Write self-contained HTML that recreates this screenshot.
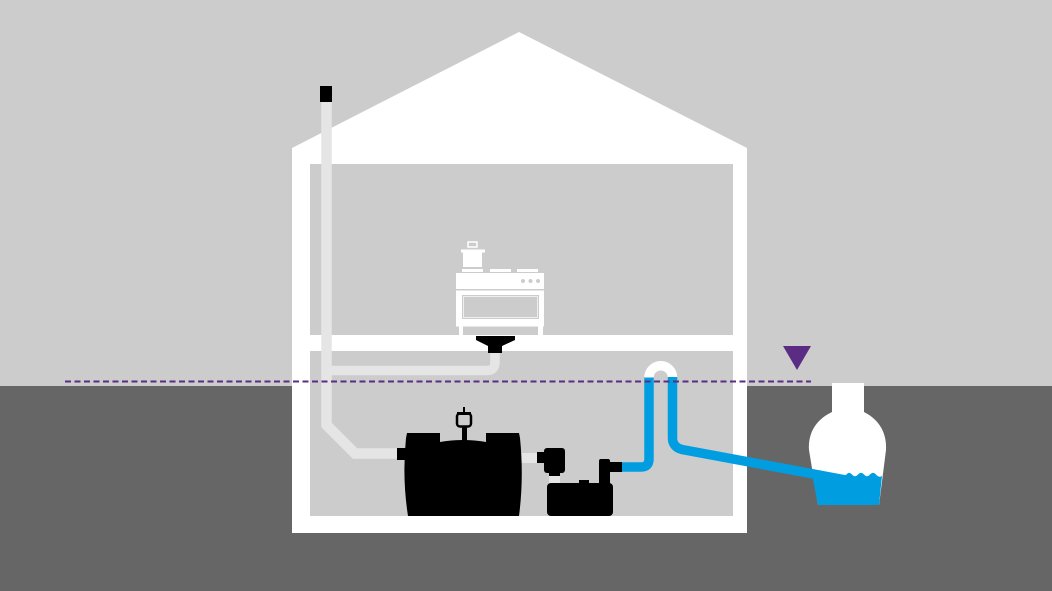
<!DOCTYPE html>
<html>
<head>
<meta charset="utf-8">
<style>
  html, body { margin: 0; padding: 0; background: #cccccc; }
  svg { display: block; }
</style>
</head>
<body>
<svg width="1052" height="591" viewBox="0 0 1052 591" xmlns="http://www.w3.org/2000/svg">
  <!-- sky -->
  <rect x="0" y="0" width="1052" height="591" fill="#cccccc"/>
  <!-- ground -->
  <rect x="0" y="386" width="1052" height="205" fill="#666666"/>

  <!-- house -->
  <polygon points="292,148 519,32 747,148 747,533 292,533" fill="#ffffff"/>
  <rect x="310" y="164" width="423" height="171" fill="#cccccc"/>
  <rect x="310" y="351" width="423" height="165" fill="#cccccc"/>

  <!-- stove -->
  <g fill="#ffffff">
    <!-- pot handle -->
    <rect x="468" y="242" width="9" height="5" fill="none" stroke="#ffffff" stroke-width="1.5"/>
    <!-- pot lid -->
    <rect x="461" y="249.5" width="24" height="3" />
    <!-- pot body -->
    <rect x="463" y="252" width="19" height="15" />
    <!-- burners -->
    <rect x="462" y="269" width="21" height="3" />
    <rect x="490" y="269" width="21" height="3" />
    <rect x="517" y="269" width="21" height="3" />
    <!-- top -->
    <rect x="456" y="273" width="88" height="16" />
    <!-- oven -->
    <rect x="456" y="290.5" width="88" height="36" />
    <!-- legs -->
    <rect x="459" y="326" width="4" height="10" />
    <rect x="538" y="326" width="5" height="10" />
  </g>
  <circle cx="523" cy="281" r="2" fill="#cccccc"/>
  <circle cx="530.5" cy="281" r="2" fill="#cccccc"/>
  <circle cx="538" cy="281" r="2" fill="#cccccc"/>
  <rect x="462" y="295" width="77" height="24" fill="#cccccc"/>
  <rect x="463.5" y="296.5" width="74" height="21" fill="none" stroke="#eeeeee" stroke-width="1"/>

  <!-- vent / drain pipes (light gray) -->
  <polyline points="326.5,101 326.5,425 355,453.5 400,453.5" fill="none" stroke="#e5e5e5" stroke-width="10.5" stroke-linejoin="miter"/>
  <path d="M495 350 V362 Q495 370.5 487 370.5 H330" fill="none" stroke="#e5e5e5" stroke-width="9.5"/>
  <rect x="520" y="453" width="18" height="10" fill="#e5e5e5"/>
  <rect x="549" y="475" width="11" height="9" fill="#e5e5e5"/>

  <!-- vent cap -->
  <rect x="320" y="86" width="12" height="16" fill="#000000"/>

  <!-- floor drain -->
  <polygon points="476,336 515,336 515,340 502,346 502,353 488,353 488,346 476,340" fill="#000000"/>

  <!-- grease separator tank -->
  <path d="M407 433 L440 433 L440 442 Q463 438 486 442 L486 433 L519 433 L520 438 Q524 478 519 516 L408 516 Q402 478 406 438 Z" fill="#000000"/>
  <rect x="397" y="448" width="11" height="12" fill="#000000"/>
  <rect x="462" y="426" width="5" height="16" fill="#000000"/>
  <rect x="457" y="413.5" width="14" height="13" rx="3" fill="#cccccc" stroke="#000000" stroke-width="2.5"/>
  <rect x="457" y="412" width="14" height="3" fill="#000000"/>
  <rect x="463" y="407" width="2" height="6" fill="#000000"/>

  <!-- pump -->
  <rect x="537" y="452" width="10" height="11" fill="#000000"/>
  <rect x="544" y="448" width="21" height="25" rx="3" fill="#000000"/>
  <rect x="549" y="470" width="11" height="6" fill="#000000"/>
  <rect x="547" y="483" width="66" height="33" rx="4" fill="#000000"/>
  <rect x="579" y="480" width="10" height="5" fill="#000000"/>
  <rect x="599" y="459" width="11" height="26" rx="2" fill="#000000"/>
  <rect x="608" y="462" width="14" height="10" fill="#000000"/>

  <!-- cistern -->
  <path d="M832 383 H864 V412 C880 420 887 434 886 450 L879 505 H818 L809 450 C808 434 815 420 832 412 Z" fill="#ffffff"/>
  <path d="M812 475 L846 475 Q849 471 852 474.5 Q855 478 858 474.5 Q861 471 864 474.5 Q867 478 870 474.5 Q873 471 876 474.5 Q879 478 882 476 L879 505 L818 505 Z" fill="#009ee0"/>

  <!-- blue pressure pipe -->
  <path d="M622 467 H641 Q649 467 649 459 V377" fill="none" stroke="#009ee0" stroke-width="9.5"/>
  <path d="M649 377.5 A11.75 11.75 0 0 1 672.5 377.5" fill="none" stroke="#ffffff" stroke-width="9.5"/>
  <path d="M672.5 377 V438 Q672.5 447 682 449.5 L846 480" fill="none" stroke="#009ee0" stroke-width="9.5"/>

  <!-- water level line -->
  <line x1="65" y1="381.5" x2="811" y2="381.5" stroke="#5b2c83" stroke-width="2" stroke-dasharray="6 3.5"/>
  <polygon points="783,346 811,346 797,370" fill="#5b2c83"/>
</svg>
</body>
</html>
